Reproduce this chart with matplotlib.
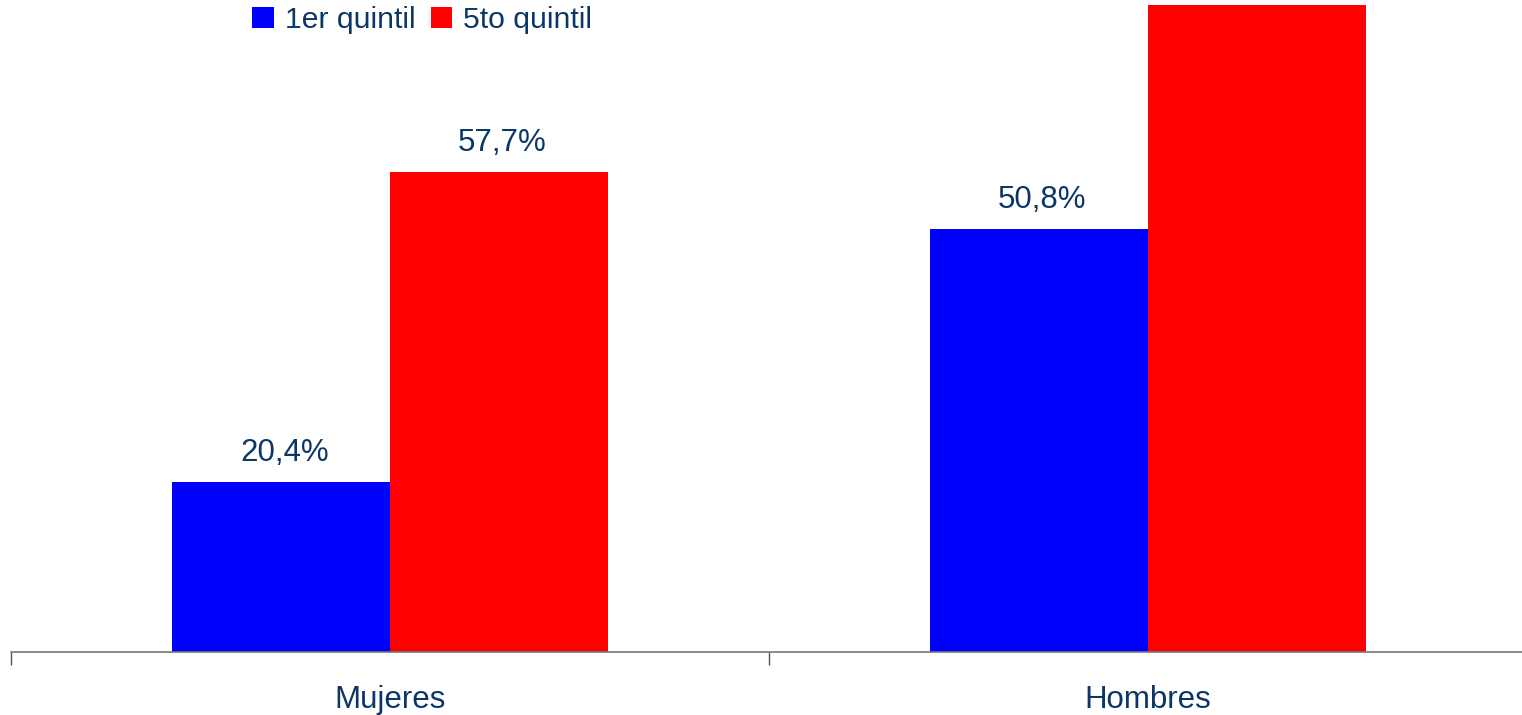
import matplotlib
matplotlib.use("Agg")
import matplotlib.pyplot as plt
import numpy as np

categories = ["Mujeres", "Hombres"]
series_names = ["1er quintil", "5to quintil"]
quintil_1 = [20.4, 50.8]
quintil_5 = [57.7, 77.7]

colors = ["#0000ff", "#ff0000"]
text_color = "#0b3766"

plt.rcParams["font.family"] = ["Liberation Sans", "DejaVu Sans"]

W, H = 1522, 715
fig = plt.figure(figsize=(W / 100, H / 100), dpi=100)
ax = fig.add_axes([11 / W, 63 / H, 1516 / W, 652 / H])

x = np.arange(len(categories))
width = 0.287
ymax = 78.3
series = [quintil_1, quintil_5]
for i, (name, values) in enumerate(zip(series_names, series)):
    offset = (i - 0.5) * width
    bars = ax.bar(x + offset, values, width, color=colors[i], label=name,
                  linewidth=0)
    for bar, v in zip(bars, values):
        if v + 6 > ymax:
            continue  # label falls outside the picture
        ax.annotate(f"{v:.1f}%".replace(".", ","),
                    (bar.get_x() + bar.get_width() / 2 + 0.004, v),
                    xytext=(0, 10), textcoords="offset points",
                    ha="center", va="bottom", fontsize=22.5, color=text_color)

ax.set_xlim(-0.5, 1.5)
ax.set_ylim(0, ymax)
ax.set_xticks([-0.5, 0.5, 1.5])
ax.set_xticklabels([])
ax.set_xticks(x, minor=True)
ax.set_xticklabels(categories, minor=True, fontsize=22.5, color=text_color)
ax.tick_params(axis="x", which="major", direction="out", length=9,
               color="#555555", width=1)
ax.tick_params(axis="x", which="minor", length=0, pad=24)
ax.set_yticks([])
for side in ["top", "right", "left"]:
    ax.spines[side].set_visible(False)
ax.spines["bottom"].set_color("#777777")
ax.spines["bottom"].set_linewidth(1.2)

leg = fig.legend(loc="upper left", bbox_to_anchor=(252 / W, 1 - 6 / H),
                 ncol=2, frameon=False, fontsize=21.7, handlelength=0.72,
                 handleheight=0.72, handletextpad=0.37, columnspacing=0.5,
                 borderpad=0, borderaxespad=0)
for t in leg.get_texts():
    t.set_color(text_color)

fig.savefig("out.png", dpi=100)
